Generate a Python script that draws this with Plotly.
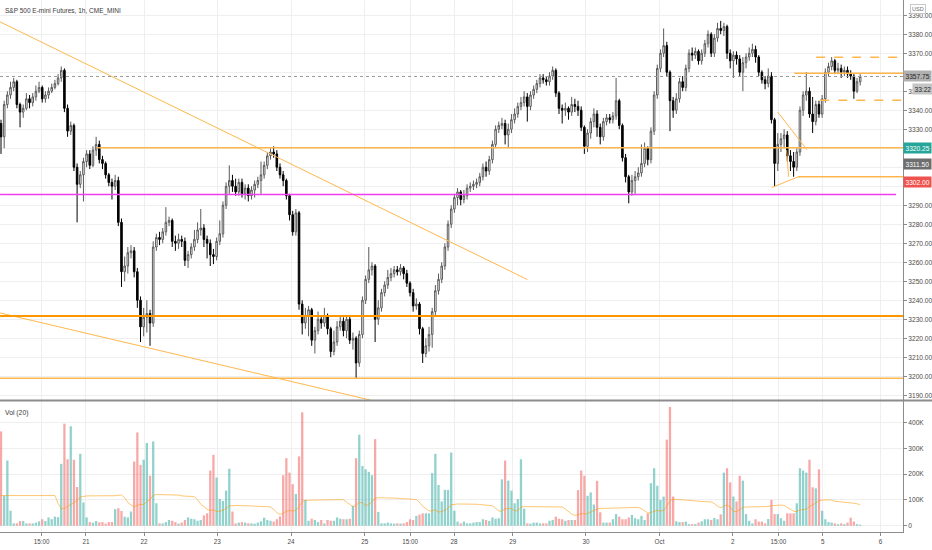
import numpy as np
import pandas as pd
import plotly.graph_objects as go

# S&P 500 E-mini futures, 1h bars
first_open = 3333
closes = [
    3326, 3343, 3348, 3352, 3355, 3343, 3339, 3341, 3346, 3344,
    3347, 3350, 3352, 3346, 3348, 3350, 3352, 3354, 3357, 3361,
    3341, 3329, 3332, 3310, 3301, 3306, 3313, 3317, 3311, 3319,
    3322, 3314, 3312, 3306, 3302, 3300, 3303, 3281, 3255, 3258,
    3265, 3266, 3255, 3240, 3226, 3231, 3233, 3228, 3268, 3273,
    3272, 3276, 3281, 3282, 3271, 3270, 3272, 3271, 3261, 3264,
    3268, 3272, 3277, 3278, 3272, 3270, 3264, 3263, 3271, 3275,
    3290, 3300, 3303, 3300, 3297, 3302, 3296, 3299, 3295, 3298,
    3301, 3303, 3306, 3311, 3316, 3318, 3317, 3310, 3306, 3303,
    3295, 3285, 3276, 3286, 3238, 3228, 3232, 3235, 3219, 3224,
    3230, 3228, 3232, 3225, 3213, 3218, 3226, 3229, 3224, 3230,
    3219, 3220, 3207, 3222, 3240, 3251, 3256, 3258, 3230, 3236,
    3244, 3248, 3252, 3254, 3256, 3255, 3257, 3254, 3249, 3244,
    3237, 3238, 3225, 3212, 3216, 3222, 3234, 3245, 3251, 3258,
    3268, 3280, 3288, 3294, 3297, 3293, 3295, 3299, 3300, 3301,
    3302, 3305, 3310, 3308, 3314, 3322, 3330, 3332, 3333, 3327,
    3330, 3335, 3338, 3342, 3344, 3347, 3342, 3348, 3351, 3354,
    3357, 3356, 3355, 3358, 3361, 3349, 3341, 3340, 3341, 3339,
    3343, 3342, 3340, 3331, 3321, 3328, 3334, 3338, 3331, 3326,
    3334, 3336, 3335, 3337, 3345, 3332, 3315, 3305, 3297, 3303,
    3305, 3307, 3312, 3320, 3314, 3329, 3348, 3362, 3370, 3374,
    3360, 3345, 3340, 3346, 3355, 3352, 3362, 3370, 3369, 3371,
    3366, 3370, 3375, 3380, 3370, 3378, 3383, 3382, 3384, 3370,
    3366, 3369, 3367, 3360, 3365, 3368, 3370, 3372, 3368, 3360,
    3356, 3354, 3358, 3335, 3312, 3322, 3325, 3327, 3316, 3313,
    3310, 3318, 3340, 3348, 3350, 3338, 3334, 3343, 3338, 3346,
    3360, 3363, 3366, 3361, 3362, 3360, 3361, 3359, 3358, 3350,
    3355, 3357.75,
]
highs = [
    3335, 3345, 3350, 3355, 3357, 3356, 3344, 3343, 3349, 3348,
    3349, 3353, 3355, 3353, 3350, 3352, 3354, 3356, 3359, 3363,
    3362, 3343, 3334, 3333, 3312, 3308, 3315, 3319, 3319, 3321,
    3326, 3324, 3316, 3313, 3307, 3304, 3306, 3305, 3283, 3263,
    3268, 3269, 3268, 3257, 3242, 3236, 3240, 3235, 3271, 3275,
    3276, 3278, 3289, 3284, 3283, 3274, 3275, 3274, 3273, 3266,
    3270, 3277, 3281, 3288, 3280, 3274, 3272, 3267, 3273, 3282,
    3292, 3302, 3311, 3306, 3304, 3304, 3304, 3301, 3301, 3300,
    3303, 3305, 3313, 3313, 3318, 3320, 3321, 3319, 3312, 3308,
    3304, 3296, 3287, 3288, 3287, 3240, 3236, 3237, 3236, 3226,
    3234, 3232, 3236, 3233, 3226, 3224, 3229, 3232, 3231, 3232,
    3232, 3223, 3221, 3224, 3242, 3253, 3268, 3260, 3259, 3240,
    3246, 3250, 3256, 3257, 3258, 3258, 3259, 3258, 3256, 3250,
    3246, 3241, 3239, 3226, 3220, 3226, 3236, 3248, 3254, 3260,
    3270, 3282, 3290, 3296, 3299, 3298, 3298, 3301, 3302, 3303,
    3304, 3307, 3312, 3313, 3316, 3324, 3332, 3334, 3336, 3335,
    3333, 3338, 3341, 3344, 3347, 3350, 3349, 3350, 3353, 3356,
    3359, 3359, 3358, 3360, 3363, 3362, 3350, 3343, 3344, 3342,
    3347, 3346, 3345, 3342, 3332, 3330, 3336, 3341, 3340, 3333,
    3336, 3338, 3338, 3339, 3357, 3346, 3333, 3317, 3306, 3306,
    3308, 3310, 3322, 3323, 3321, 3331, 3350, 3364, 3372, 3383,
    3376, 3361, 3347, 3349, 3357, 3358, 3364, 3372, 3373, 3373,
    3372, 3372, 3377, 3382, 3381, 3380, 3386, 3387, 3386, 3385,
    3372, 3371, 3371, 3369, 3368, 3370, 3373, 3375, 3374, 3369,
    3361, 3358, 3362, 3360, 3336, 3328, 3328, 3330, 3329, 3319,
    3318, 3320, 3342, 3350, 3360, 3352, 3347, 3345, 3345, 3348,
    3362, 3365, 3368, 3367, 3365, 3364, 3363, 3363, 3361, 3359,
    3357, 3359,
]
lows = [
    3317, 3320, 3341, 3346, 3350, 3341, 3331, 3336, 3340, 3341,
    3342, 3345, 3349, 3344, 3344, 3346, 3349, 3351, 3353, 3355,
    3339, 3326, 3327, 3308, 3281, 3299, 3292, 3310, 3309, 3310,
    3316, 3312, 3309, 3304, 3300, 3293, 3298, 3279, 3247, 3250,
    3254, 3262, 3252, 3236, 3218, 3221, 3223, 3216, 3226, 3266,
    3269, 3270, 3274, 3279, 3268, 3266, 3267, 3268, 3258, 3257,
    3262, 3266, 3270, 3274, 3268, 3262, 3258, 3259, 3261, 3269,
    3273, 3288, 3296, 3297, 3295, 3295, 3294, 3293, 3292, 3293,
    3294, 3299, 3296, 3304, 3309, 3314, 3315, 3308, 3304, 3300,
    3293, 3282, 3274, 3274, 3235, 3222, 3225, 3221, 3216, 3212,
    3222, 3225, 3226, 3222, 3210, 3211, 3216, 3224, 3221, 3220,
    3217, 3214, 3199, 3205, 3220, 3238, 3249, 3253, 3218, 3227,
    3234, 3242, 3246, 3250, 3252, 3253, 3253, 3251, 3247, 3242,
    3234, 3235, 3222, 3207, 3210, 3213, 3215, 3232, 3243, 3249,
    3256, 3266, 3278, 3286, 3290, 3290, 3291, 3293, 3297, 3298,
    3299, 3300, 3303, 3305, 3306, 3312, 3320, 3328, 3330, 3322,
    3320, 3328, 3333, 3336, 3340, 3342, 3334, 3340, 3346, 3349,
    3352, 3354, 3353, 3353, 3356, 3347, 3338, 3333, 3337, 3335,
    3337, 3339, 3337, 3329, 3317, 3318, 3325, 3331, 3326, 3322,
    3324, 3332, 3333, 3333, 3335, 3330, 3313, 3302, 3291, 3295,
    3296, 3303, 3305, 3310, 3311, 3312, 3327, 3346, 3360, 3368,
    3358, 3329, 3336, 3338, 3344, 3350, 3350, 3360, 3366, 3367,
    3364, 3364, 3368, 3373, 3368, 3368, 3376, 3380, 3379, 3367,
    3362, 3357, 3364, 3358, 3350, 3362, 3366, 3368, 3365, 3358,
    3354, 3351, 3352, 3333, 3300, 3308, 3318, 3320, 3313, 3308,
    3305, 3308, 3316, 3337, 3345, 3336, 3328, 3332, 3336, 3336,
    3344, 3358, 3361, 3359, 3359, 3357, 3358, 3357, 3356, 3346,
    3349, 3353,
]
# volume in thousands of contracts
volumes_k = [
    366, 117, 253, 58, 9, 9, 18, 18, 9, 9,
    9, 12, 17, 25, 18, 32, 25, 35, 33, 240,
    396, 258, 386, 256, 150, 279, 90, 32, 14, 12,
    18, 13, 14, 8, 14, 14, 64, 68, 57, 35,
    32, 55, 249, 362, 236, 256, 321, 194, 327, 87,
    9, 9, 14, 22, 19, 14, 8, 12, 22, 32,
    27, 25, 19, 22, 40, 48, 214, 275, 187, 104,
    96, 136, 221, 55, 9, 12, 14, 12, 9, 9,
    8, 12, 17, 31, 22, 19, 16, 25, 36, 196,
    262, 206, 161, 123, 269, 440, 100, 19, 27, 22,
    14, 22, 9, 22, 19, 19, 32, 27, 25, 25,
    27, 77, 262, 353, 232, 219, 209, 196, 336, 53,
    9, 9, 12, 9, 8, 9, 8, 9, 14, 25,
    22, 38, 43, 48, 48, 48, 204, 279, 158, 94,
    139, 139, 284, 58, 16, 9, 16, 9, 9, 12,
    14, 14, 25, 22, 18, 32, 27, 29, 180, 253,
    175, 136, 87, 103, 258, 66, 9, 8, 12, 12,
    9, 9, 9, 19, 22, 35, 27, 25, 19, 22,
    22, 22, 138, 214, 194, 116, 129, 82, 174, 52,
    12, 12, 12, 25, 45, 35, 25, 25, 32, 42,
    29, 25, 38, 22, 48, 165, 223, 155, 100, 113,
    334, 461, 113, 17, 14, 14, 16, 6, 6, 6,
    12, 17, 25, 25, 22, 30, 25, 44, 206, 223,
    168, 113, 94, 194, 175, 45, 19, 9, 25, 16,
    16, 9, 26, 100, 45, 45, 29, 19, 48, 48,
    48, 87, 223, 214, 206, 256, 149, 145, 219, 58,
    25, 14, 12, 9, 6, 9, 6, 12, 31, 16,
    6, 4,
]
# bars just before the visible window (only feed the 20-bar average)
vol_before_k = [117, 253, 58, 9, 9, 18, 18, 9, 9, 9, 12, 17, 25, 18, 32, 25, 35, 650, 651]

tick_bars = [12.8, 26.8, 45.1, 68.2, 91.5, 114.7, 129.0, 142.9, 161.4, 184.5, 207.7, 230.8, 245.2, 259.2, 277.4]
tick_text = ['15:00', '21', '22', '23', '24', '25', '15:00', '28', '29', '30', 'Oct', '2', '15:00', '5', '6']

# price ticks that stay readable (the rest sit under the price tags)
price_ticks = [3190, 3200, 3210, 3220, 3230, 3240, 3250, 3260, 3270, 3280, 3290,
               3330, 3340, 3350, 3370, 3380, 3390]

last_price = 3357.75
countdown = '33:22'
marker_prices = [3320.25, 3311.50, 3302.00]

# drawings: (bar0, price0, bar1, price1)
trend_lines = [
    (-0.3, 3386.5, 166.0, 3250.9),
    (-0.3, 3233.3, 116.4, 3187.5),
    (245.0, 3339.0, 254.2, 3319.2),
    (243.1, 3299.3, 251.5, 3305.0),
    (247.8, 3319.0, 248.4, 3305.0),
]
# horizontal levels: (price, from bar, to bar)
levels_main = [(3231.7, -0.3, 284.5)]
levels_thin = [(3320.25, 30.3, 284.5), (3199.0, -0.3, 284.5), (3359.5, 250.2, 284.5), (3305.0, 251.4, 284.5)]
levels_dashed = [(3367.9, 257.1, 284.5), (3345.3, 258.4, 284.5)]
level_magenta = (3295.6, -0.3, 282.3)

n = len(closes)
idx = np.arange(n)
opens = [first_open] + closes[:-1]
up = np.array(closes) >= np.array(opens)

vol = np.array(volumes_k) * 1000
vol_colors = np.where(up, 'rgba(38,166,154,0.5)', 'rgba(239,83,80,0.5)')
ma = pd.Series(vol_before_k + volumes_k).rolling(20).mean().iloc[len(vol_before_k):].values * 1000

GRID = '#efefef'
AXIS = '#8c8c8c'
ORANGE = '#ffb74d'
FONT = 'Liberation Sans'

fig = go.Figure()

fig.add_trace(go.Candlestick(
    x=idx, open=opens, high=highs, low=lows, close=closes,
    xaxis='x2', yaxis='y',
    increasing=dict(line=dict(color='#5a5a5a', width=1), fillcolor='#ffffff'),
    decreasing=dict(line=dict(color='#000000', width=1), fillcolor='#000000'),
    whiskerwidth=0, showlegend=False,
))

fig.add_trace(go.Bar(
    x=idx, y=vol, xaxis='x', yaxis='y2', width=0.72,
    marker=dict(color=vol_colors, line=dict(width=0)), showlegend=False,
))
fig.add_trace(go.Scatter(
    x=idx, y=ma, xaxis='x', yaxis='y2', mode='lines',
    line=dict(color='rgba(255,152,0,0.55)', width=1), showlegend=False,
))

shapes = []
for b0, p0, b1, p1 in trend_lines:
    shapes.append(dict(type='line', xref='x2', yref='y', x0=b0, y0=p0, x1=b1, y1=p1,
                       line=dict(color=ORANGE, width=1)))
for p, b0, b1 in levels_main:
    shapes.append(dict(type='line', xref='x2', yref='y', x0=b0, y0=p, x1=b1, y1=p,
                       line=dict(color='#ff9800', width=2)))
for p, b0, b1 in levels_thin:
    shapes.append(dict(type='line', xref='x2', yref='y', x0=b0, y0=p, x1=b1, y1=p,
                       line=dict(color=ORANGE, width=1.5)))
for p, b0, b1 in levels_dashed:
    shapes.append(dict(type='line', xref='x2', yref='y', x0=b0, y0=p, x1=b1, y1=p,
                       line=dict(color=ORANGE, width=1.5, dash='dash')))
p, b0, b1 = level_magenta
shapes.append(dict(type='line', xref='x2', yref='y', x0=b0, y0=p, x1=b1, y1=p,
                   line=dict(color='#f23cf2', width=1.5)))
# last price dotted line
shapes.append(dict(type='line', xref='paper', yref='y', x0=0, x1=1, y0=last_price, y1=last_price,
                   line=dict(color='#9a9a9a', width=1, dash='dot')))
# pane separator
plot_h = 532
shapes.append(dict(type='line', xref='paper', yref='paper', x0=0, x1=932 / 903,
                   y0=131.5 / plot_h, y1=131.5 / plot_h, line=dict(color=AXIS, width=2)))

annotations = [
    dict(text='S&P 500 E-mini Futures, 1h, CME_MINI', xref='paper', yref='paper', x=0, y=1,
         xanchor='left', yanchor='top', xshift=3, yshift=-5, showarrow=False,
         font=dict(size=6.5, color='#3a3a3a', family=FONT)),
    dict(text='Vol (20)', xref='paper', yref='paper', x=0, y=131 / plot_h,
         xanchor='left', yanchor='top', xshift=3, yshift=-6, showarrow=False,
         font=dict(size=6.8, color='#3a3a3a', family=FONT)),
    dict(text='USD', xref='paper', yref='paper', x=910 / 903, y=1, xanchor='left', yanchor='top',
         yshift=-4, showarrow=False, bgcolor='#ffffff', bordercolor='#c8c8c8', borderwidth=1,
         borderpad=1, font=dict(size=5.5, color='#6a6a6a', family=FONT)),
    dict(text=f'{last_price:.2f}', xref='paper', yref='y', x=1, y=last_price, xanchor='left',
         showarrow=False, bgcolor='#b0b0b0', borderpad=1.5,
         font=dict(size=6.6, color='#262626', family=FONT)),
    dict(text=countdown, xref='paper', yref='y', x=1, y=3351.3, xanchor='left', xshift=9,
         showarrow=False, bgcolor='#c4c4c4', borderpad=1.5,
         font=dict(size=6.6, color='#262626', family=FONT)),
]
marker_bg = ['#26a69a', '#6e6e6e', '#ef5350']
for p, bg in zip(marker_prices, marker_bg):
    annotations.append(dict(text=f'{p:.2f}', xref='paper', yref='y', x=1, y=p, xanchor='left',
                            showarrow=False, bgcolor=bg, borderpad=1.5,
                            font=dict(size=6.6, color='#ffffff', family=FONT)))

x_range = [-0.32, 284.5]
fig.update_layout(
    width=932, height=550,
    margin=dict(l=0, r=29, t=0, b=18),
    paper_bgcolor='white', plot_bgcolor='white',
    showlegend=False,
    font=dict(family=FONT, size=6.6, color='#4a4a4a'),
    xaxis=dict(domain=[0, 1], anchor='y2', range=x_range, tickmode='array',
               tickvals=tick_bars, ticktext=tick_text, showgrid=True, gridcolor=GRID,
               zeroline=False, showline=True, linecolor=AXIS, ticks='outside', ticklen=3,
               tickcolor=AXIS, tickfont=dict(size=6.3), rangeslider=dict(visible=False)),
    xaxis2=dict(domain=[0, 1], anchor='y', matches='x', range=x_range, tickmode='array',
                tickvals=tick_bars, showticklabels=False, showgrid=True, gridcolor=GRID,
                zeroline=False, showline=False, rangeslider=dict(visible=False)),
    yaxis=dict(domain=[132 / plot_h, 1], anchor='x2', side='right', range=[3187.5, 3398.0],
               tickmode='array', tickvals=price_ticks, tickformat='.2f',
               showgrid=True, gridcolor=GRID,
               minor=dict(tick0=3190, dtick=10, showgrid=True, gridcolor=GRID,
                          ticks='outside', ticklen=3, tickcolor=AXIS),
               zeroline=False, showline=True, linecolor=AXIS, ticks='outside', ticklen=3,
               tickcolor=AXIS),
    yaxis2=dict(domain=[0, 131 / plot_h], anchor='x', side='right', range=[-24500, 484000],
                tickmode='array', tickvals=[0, 100000, 200000, 300000, 400000],
                ticktext=['0', '100K', '200K', '300K', '400K'], showgrid=True, gridcolor=GRID,
                zeroline=False, showline=True, linecolor=AXIS, ticks='outside', ticklen=3,
                tickcolor=AXIS),
    shapes=shapes,
    annotations=annotations,
)

# the page body has a default margin; drop it so the figure fills the window
fig.write_html('out.html', config={'displayModeBar': False},
               post_script="document.body.style.margin='0';")
